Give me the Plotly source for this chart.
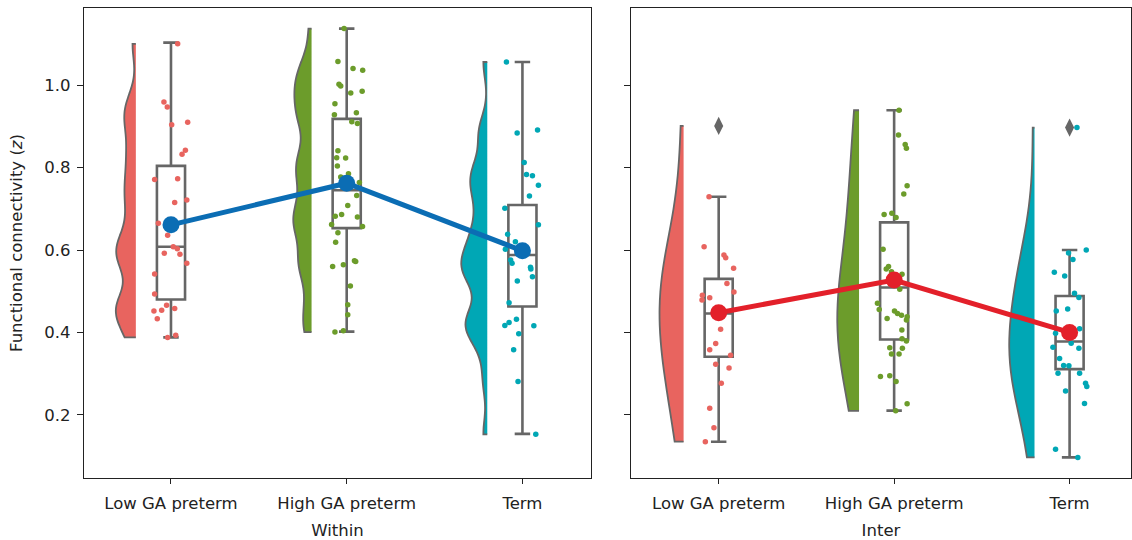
import numpy as np
import plotly.graph_objects as go

categories = ["Low GA preterm", "High GA preterm", "Term"]
panel_titles = ["Within", "Inter"]
group_colors = ["#E8645F", "#6C9C2B", "#00A7B5"]
mean_colors = ["#0B6DB4", "#E3202A"]

# ---- Within ----
within_low = [1.100, 0.959, 0.947, 0.904, 0.910, 0.842, 0.832, 0.771, 0.773, 0.721, 0.715, 0.665, 0.636, 0.608,
              0.603, 0.592, 0.590, 0.568, 0.542, 0.493, 0.466, 0.458, 0.452, 0.454, 0.433, 0.388, 0.393]
within_low_jit = [0.038, -0.040, -0.021, 0.004, 0.095, 0.082, 0.063, -0.093, 0.038, 0.090, 0.021, -0.072, -0.019,
                  0.013, 0.036, -0.038, 0.051, 0.090, -0.093, -0.093, -0.025, 0.021, -0.097, -0.053, -0.078,
                  -0.019, 0.027]
within_high = [1.137, 1.057, 1.040, 1.036, 1.002, 0.998, 0.981, 0.985, 0.955, 0.928, 0.933, 0.911, 0.907, 0.841,
               0.824, 0.823, 0.804, 0.777, 0.785, 0.764, 0.732, 0.708, 0.686, 0.682, 0.680, 0.662, 0.657, 0.642,
               0.619, 0.574, 0.572, 0.564, 0.560, 0.513, 0.467, 0.443, 0.401, 0.404]
within_high_jit = [-0.015, -0.050, 0.036, 0.091, -0.044, -0.034, 0.023, 0.088, -0.067, -0.070, 0.055, 0.029, 0.061,
                   -0.050, -0.057, -0.006, -0.053, -0.034, 0.010, 0.072, 0.057, 0.006, -0.029, -0.065, 0.061,
                   -0.086, 0.090, -0.050, -0.063, 0.044, 0.051, -0.019, -0.080, 0.021, 0.006, 0.006, -0.067,
                   -0.019]
within_term = [1.056, 0.884, 0.891, 0.812, 0.783, 0.780, 0.757, 0.731, 0.701, 0.661, 0.638, 0.620, 0.602, 0.576,
               0.568, 0.558, 0.554, 0.535, 0.525, 0.472, 0.432, 0.424, 0.417, 0.416, 0.397, 0.358, 0.281, 0.153]
within_term_jit = [-0.091, -0.030, 0.086, 0.010, 0.023, 0.057, 0.091, 0.040, -0.100, 0.091, -0.084, -0.040, -0.097,
                   -0.067, -0.059, 0.046, 0.048, 0.057, -0.029, -0.076, -0.034, -0.076, -0.100, 0.065, -0.021,
                   -0.050, -0.025, 0.076]

# ---- Inter ----
inter_low = [0.901, 0.729, 0.608, 0.588, 0.581, 0.556, 0.519, 0.498, 0.490, 0.484, 0.479, 0.448, 0.408, 0.373,
             0.358, 0.345, 0.323, 0.314, 0.277, 0.216, 0.169, 0.135]
inter_low_jit = [0.000, -0.055, -0.083, 0.030, 0.040, 0.085, 0.047, 0.087, -0.093, -0.051, -0.095, 0.000, 0.011,
                 -0.017, -0.051, 0.068, -0.017, 0.059, 0.015, -0.051, -0.027, -0.076]
inter_high = [0.939, 0.879, 0.856, 0.847, 0.756, 0.736, 0.686, 0.689, 0.679, 0.602, 0.560, 0.554, 0.547, 0.541,
              0.505, 0.471, 0.456, 0.452, 0.446, 0.442, 0.438, 0.430, 0.434, 0.406, 0.385, 0.379, 0.363, 0.362,
              0.348, 0.348, 0.293, 0.295, 0.281, 0.227, 0.210]
inter_high_jit = [0.028, 0.025, 0.063, 0.070, 0.074, 0.055, -0.057, -0.013, 0.011, -0.063, -0.032, -0.045, -0.015,
                  0.045, 0.032, -0.095, -0.085, 0.002, 0.019, 0.042, 0.074, 0.070, -0.040, 0.044, 0.045, 0.070,
                  -0.025, 0.047, -0.015, 0.028, -0.078, -0.025, 0.011, 0.074, 0.009]
inter_term = [0.897, 0.600, 0.593, 0.577, 0.546, 0.537, 0.495, 0.485, 0.457, 0.452, 0.398, 0.409, 0.364, 0.374,
              0.362, 0.337, 0.320, 0.319, 0.301, 0.301, 0.277, 0.269, 0.258, 0.228, 0.117, 0.097]
inter_term_jit = [0.042, 0.095, -0.006, 0.019, -0.087, -0.028, 0.028, 0.053, -0.011, -0.076, -0.080, 0.057, -0.095,
                  0.009, 0.053, -0.057, -0.034, -0.004, -0.066, 0.057, 0.091, 0.098, -0.023, 0.085, -0.080, 0.047]

# box statistics
within_q1 = [0.480, 0.653, 0.463]
within_median = [0.608, 0.745, 0.588]
within_q3 = [0.804, 0.918, 0.709]
within_lower = [0.388, 0.402, 0.154]
within_upper = [1.103, 1.137, 1.056]
inter_q1 = [0.341, 0.383, 0.311]
inter_median = [0.446, 0.509, 0.378]
inter_q3 = [0.530, 0.667, 0.4885]
inter_lower = [0.135, 0.2105, 0.097]
inter_upper = [0.729, 0.939, 0.600]
inter_outliers = [0.901, None, 0.897]

within_means = [0.661, 0.762, 0.598]
inter_means = [0.448, 0.527, 0.400]

panels = [
    dict(vals=[within_low, within_high, within_term], jit=[within_low_jit, within_high_jit, within_term_jit],
         q1=within_q1, med=within_median, q3=within_q3, lf=within_lower, uf=within_upper, out=[None, None, None],
         means=within_means, bwf=0.2, vw=[0.228, 0.208, 0.296]),
    dict(vals=[inter_low, inter_high, inter_term], jit=[inter_low_jit, inter_high_jit, inter_term_jit],
         q1=inter_q1, med=inter_median, q3=inter_q3, lf=inter_lower, uf=inter_upper, out=inter_outliers,
         means=inter_means, bwf=0.7, vw=[0.274, 0.248, 0.288]),
]

GRAY = "#666666"
fig = go.Figure()
for p, pan in enumerate(panels):
    xa = "x" if p == 0 else "x2"
    ya = "y" if p == 0 else "y2"
    for i in range(3):
        v = np.array(pan["vals"][i])
        fig.add_trace(go.Violin(
            x=[i - 0.2] * len(v), y=v, side="negative", spanmode="hard",
            bandwidth=pan["bwf"] * v.std(ddof=1), scalemode="width", width=pan["vw"][i],
            fillcolor=group_colors[i], opacity=1, line=dict(color=GRAY, width=1.8),
            points=False, box_visible=False, meanline_visible=False, hoverinfo="skip",
            showlegend=False, xaxis=xa, yaxis=ya))
    fig.add_trace(go.Box(
        x=[0, 1, 2], q1=pan["q1"], median=pan["med"], q3=pan["q3"],
        lowerfence=pan["lf"], upperfence=pan["uf"], width=0.16, whiskerwidth=0.55,
        fillcolor="rgba(255,255,255,0)", line=dict(color=GRAY, width=2.6),
        boxpoints=False, showlegend=False, xaxis=xa, yaxis=ya))
    for i in range(3):
        v = pan["vals"][i]
        fig.add_trace(go.Scatter(
            x=[i + j for j in pan["jit"][i]], y=v, mode="markers",
            marker=dict(color=group_colors[i], size=5.5, line=dict(width=0)),
            showlegend=False, xaxis=xa, yaxis=ya))
    ox = [i for i in range(3) if pan["out"][i] is not None]
    if ox:
        fig.add_trace(go.Scatter(
            x=ox, y=[pan["out"][i] for i in ox], mode="markers",
            marker=dict(symbol="diamond-tall", color=GRAY, size=13, line=dict(width=0)),
            showlegend=False, xaxis=xa, yaxis=ya))
    fig.add_trace(go.Scatter(
        x=[0, 1, 2], y=pan["means"], mode="lines+markers",
        line=dict(color=mean_colors[p], width=5),
        marker=dict(color=mean_colors[p], size=17),
        showlegend=False, xaxis=xa, yaxis=ya))

FONT = dict(family="DejaVu Sans", size=16.5, color="#222222")
axis_common = dict(showline=True, mirror=True, linecolor="#222222", linewidth=1.4,
                   showgrid=False, zeroline=False, ticks="outside", tickcolor="#222222",
                   tickwidth=1.3, tickfont=FONT)
yrange = [0.047, 1.187]
fig.update_layout(
    width=1132, height=540,
    margin=dict(l=84, r=1, t=8, b=62),
    paper_bgcolor="white", plot_bgcolor="white",
    violinmode="overlay", boxmode="overlay",
    font=FONT,
    xaxis=dict(domain=[0, 0.4842], range=[-0.495, 2.39], type="linear",
               tickvals=[0, 1, 2], ticktext=categories, ticklen=5, ticklabelstandoff=5,
               title=dict(text=panel_titles[0], font=FONT, standoff=12), **axis_common),
    xaxis2=dict(domain=[0.5224, 1], range=[-0.5, 2.35], type="linear",
                tickvals=[0, 1, 2], ticktext=categories, ticklen=5, ticklabelstandoff=5,
                title=dict(text=panel_titles[1], font=FONT, standoff=12), **axis_common),
    yaxis=dict(range=yrange, tickvals=[0.2, 0.4, 0.6, 0.8, 1.0], ticktext=["0.2", "0.4", "0.6", "0.8", "1.0"],
               ticklen=6, ticklabelstandoff=3, anchor="x",
               title=dict(text="Functional connectivity (<i>z</i>)", font=FONT, standoff=17), **axis_common),
    yaxis2=dict(range=yrange, tickvals=[0.2, 0.4, 0.6, 0.8, 1.0], showticklabels=False, ticklen=6,
                anchor="x2", matches="y", **axis_common),
)
fig.write_html("out.html")
